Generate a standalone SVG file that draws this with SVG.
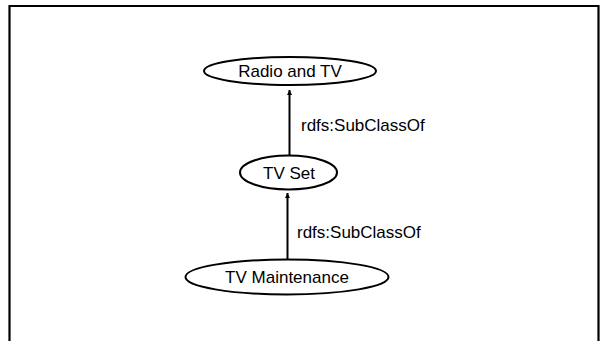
<svg xmlns="http://www.w3.org/2000/svg" width="605" height="341" viewBox="0 0 605 341">
  <style>
    .node { fill: #ffffff; stroke: #000000; stroke-width: 2; }
    .lbl { font-family: "Liberation Sans", Arial, sans-serif; font-size: 17px; fill: #000000; }
    .edge { stroke: #000000; stroke-width: 2; fill: none; marker-end: url(#arr); }
  </style>
  <defs>
    <marker id="arr" viewBox="0 0 10 10" refX="10" refY="5" markerWidth="5" markerHeight="8" markerUnits="userSpaceOnUse" orient="auto">
      <path d="M0,0 L10,5 L0,10 z" fill="#000000"/>
    </marker>
  </defs>
  <rect x="0" y="0" width="605" height="341" fill="#ffffff"/>
  <path d="M9.5,341 V6 H598.5 V341" fill="none" stroke="#000000" stroke-width="2.2"/>
  <g id="connectors">
    <line class="edge" x1="289.5" y1="155" x2="289.5" y2="90"/>
    <text class="lbl" x="301" y="131">rdfs:SubClassOf</text>
    <line class="edge" x1="287.5" y1="259" x2="287.5" y2="193"/>
    <text class="lbl" x="297" y="238">rdfs:SubClassOf</text>
  </g>
  <g id="radio-and-tv">
    <ellipse class="node" cx="290" cy="71" rx="86" ry="14"/>
    <text class="lbl" x="290" y="77" text-anchor="middle">Radio and TV</text>
  </g>
  <g id="tv-set">
    <ellipse class="node" cx="288.5" cy="172.5" rx="48.5" ry="17"/>
    <text class="lbl" x="289" y="178.5" text-anchor="middle">TV Set</text>
  </g>
  <g id="tv-maintenance">
    <ellipse class="node" cx="287" cy="277" rx="101.5" ry="17.5"/>
    <text class="lbl" x="287" y="283" text-anchor="middle">TV Maintenance</text>
  </g>
</svg>
